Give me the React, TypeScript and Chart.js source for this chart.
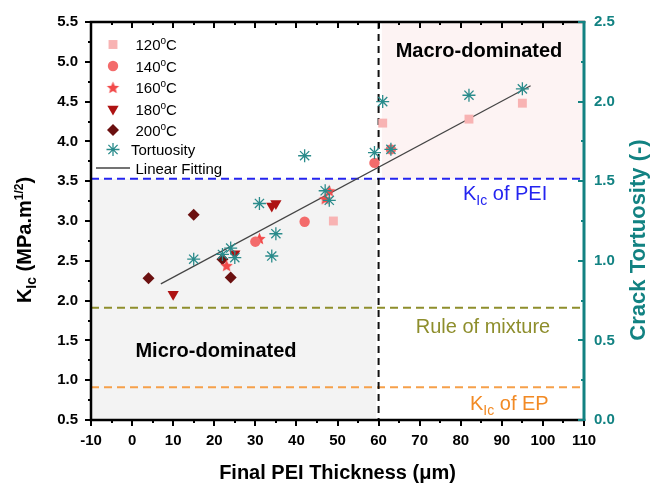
import React, { useEffect, useRef } from 'react';
import { Chart, registerables } from 'chart.js';
import { drawPoint } from 'chart.js/helpers';

Chart.register(...registerables);

// ---------- data ----------
const thickness120 = [49, 61, 82, 95];
const kic120 = [3.0, 4.23, 4.28, 4.48];
const thickness140 = [30, 42, 59, 63];
const kic140 = [2.74, 2.99, 3.73, 3.9];
const thickness160 = [23, 31, 47, 48];
const kic160 = [2.44, 2.78, 3.28, 3.38];
const thickness180 = [10, 25, 34, 35];
const kic180 = [2.08, 2.59, 3.19, 3.22];
const thickness200 = [4, 15, 22, 24];
const kic200 = [2.28, 3.08, 2.52, 2.29];
const tortThickness = [15, 22, 24, 25, 31, 34, 35, 42, 47, 48, 59, 61, 63, 82, 95];
const tortuosity = [1.01, 1.04, 1.08, 1.02, 1.36, 1.03, 1.17, 1.66, 1.44, 1.38, 1.68, 2.0, 1.7, 2.04, 2.08];
const fitThickness = [7, 97];
const fitKic = [2.21, 4.7];
const kicPEI = 3.53;
const kicRuleOfMixture = 1.91;
const kicEP = 0.91;
const regimeBoundary = 60;
const microRegionX = [-10, 59.4];
const macroRegionX = [60.8, 110];

const FAM = '"Liberation Sans", Arial, sans-serif';
const TEAL = '#128282';
const C120 = '#F8B3B3';
const C140 = '#F36B6B';
const C160 = '#F24A4A';
const C180 = '#AE1212';
const C200 = '#6B1010';
const CTORT = '#2A8B8B';

function makeStar(color: string, r: number) {
  const c = document.createElement('canvas');
  const s = Math.ceil(r * 2 + 2);
  c.width = s;
  c.height = s;
  const g = c.getContext('2d')!;
  g.fillStyle = color;
  g.beginPath();
  for (let i = 0; i < 10; i++) {
    const rad = i % 2 === 0 ? r : r * 0.45;
    const ang = -Math.PI / 2 + (i * Math.PI) / 5;
    g.lineTo(s / 2 + rad * Math.cos(ang), s / 2 + rad * Math.sin(ang) + 0.5);
  }
  g.closePath();
  g.fill();
  return c;
}

type Part = { t: string; size: number; bold?: boolean; dy?: number };

function drawRich(ctx: CanvasRenderingContext2D, parts: Part[], x: number, y: number, align: 'left' | 'center', color: string) {
  let total = 0;
  const widths = parts.map((p) => {
    ctx.font = `${p.bold ? 'bold ' : ''}${p.size}px ${FAM}`;
    const w = ctx.measureText(p.t).width;
    total += w;
    return w;
  });
  let cx = align === 'center' ? x - total / 2 : x;
  ctx.fillStyle = color;
  ctx.textAlign = 'left';
  ctx.textBaseline = 'alphabetic';
  parts.forEach((p, i) => {
    ctx.font = `${p.bold ? 'bold ' : ''}${p.size}px ${FAM}`;
    ctx.fillText(p.t, cx, y + (p.dy || 0));
    cx += widths[i];
  });
}

export default function App() {
  const ref = useRef<HTMLCanvasElement>(null);

  useEffect(() => {
    document.body.style.margin = '0';
    const canvas = ref.current!;
    const starImg = makeStar(C160, 6.5);

    const legendItems: any[] = [
      { label: '120', style: 'rect', color: C120, r: 6.3 },
      { label: '140', style: 'circle', color: C140, r: 5.2 },
      { label: '160', style: starImg, color: C160, r: 6 },
      { label: '180', style: 'triangle', color: C180, r: 6.5, rot: 180 },
      { label: '200', style: 'rectRot', color: C200, r: 6 },
    ];

    const decor = {
      id: 'decor',
      beforeDatasetsDraw(chart: any) {
        const { ctx, chartArea: a, scales } = chart;
        const x = scales.x, y = scales.y;
        ctx.save();
        // shaded regions
        ctx.fillStyle = '#F3F3F3';
        const gx1 = x.getPixelForValue(microRegionX[0]);
        const gx2 = x.getPixelForValue(microRegionX[1]);
        const gy1 = y.getPixelForValue(kicPEI);
        const gy2 = y.getPixelForValue(0.5);
        ctx.fillRect(gx1, gy1, gx2 - gx1, gy2 - gy1);
        ctx.fillStyle = '#FDF3F3';
        const px1 = x.getPixelForValue(macroRegionX[0]);
        const px2 = x.getPixelForValue(macroRegionX[1]);
        const py1 = y.getPixelForValue(5.5);
        const py2 = y.getPixelForValue(kicPEI);
        ctx.fillRect(px1, py1, px2 - px1, py2 - py1);

        const hline = (v: number, color: string) => {
          const py = y.getPixelForValue(v);
          ctx.strokeStyle = color;
          ctx.lineWidth = 2;
          ctx.setLineDash([8, 5]);
          ctx.beginPath();
          ctx.moveTo(a.left, py);
          ctx.lineTo(a.right, py);
          ctx.stroke();
        };
        hline(kicPEI, '#2424F0');
        hline(kicRuleOfMixture, '#8E8E2C');
        hline(kicEP, '#F6A04A');

        const vx = x.getPixelForValue(regimeBoundary);
        ctx.strokeStyle = '#111';
        ctx.lineWidth = 2;
        ctx.setLineDash([7, 5]);
        ctx.beginPath();
        ctx.moveTo(vx, a.top);
        ctx.lineTo(vx, a.bottom);
        ctx.stroke();
        ctx.setLineDash([]);
        ctx.restore();
      },
      afterDraw(chart: any) {
        const { ctx, chartArea: a, scales } = chart;
        const x = scales.x, y = scales.y, y2 = scales.y2;
        ctx.save();
        // annotations
        drawRich(ctx, [{ t: 'Macro-dominated', size: 20, bold: true }], 479, 57, 'center', '#000');
        drawRich(ctx, [{ t: 'Micro-dominated', size: 20, bold: true }], 216, 357, 'center', '#000');
        drawRich(ctx, [{ t: 'K', size: 20 }, { t: 'Ic', size: 14, dy: 5 }, { t: ' of PEI', size: 20 }], 463, 200, 'left', '#2424F0');
        drawRich(ctx, [{ t: 'Rule of mixture', size: 20 }], 483, 333, 'center', '#8E8E2C');
        drawRich(ctx, [{ t: 'K', size: 20 }, { t: 'Ic', size: 14, dy: 5 }, { t: ' of EP', size: 20 }], 470, 410, 'left', '#F28A24');

        // frame
        ctx.lineCap = 'square';
        ctx.strokeStyle = '#000';
        ctx.lineWidth = 2.5;
        ctx.beginPath();
        ctx.moveTo(a.left, a.top);
        ctx.lineTo(a.right, a.top);
        ctx.moveTo(a.left, a.top);
        ctx.lineTo(a.left, a.bottom);
        ctx.lineTo(a.right, a.bottom);
        ctx.stroke();
        ctx.lineCap = 'butt';
        ctx.lineWidth = 2;
        // x ticks
        for (let v = -10; v <= 110; v += 5) {
          const px = Math.round(x.getPixelForValue(v));
          const major = v % 10 === 0;
          const len = major ? 6 : 3;
          ctx.beginPath();
          ctx.moveTo(px, a.bottom);
          ctx.lineTo(px, a.bottom + len);
          ctx.moveTo(px, a.top);
          ctx.lineTo(px, a.top + len);
          ctx.stroke();
        }
        // left y ticks
        for (let v = 0.5; v <= 5.5001; v += 0.25) {
          const py = Math.round(y.getPixelForValue(v));
          const major = Math.abs(v * 2 - Math.round(v * 2)) < 1e-6;
          const len = major ? 6 : 3;
          ctx.beginPath();
          ctx.moveTo(a.left, py);
          ctx.lineTo(a.left - len, py);
          ctx.stroke();
        }
        // right axis
        ctx.strokeStyle = TEAL;
        ctx.lineWidth = 3;
        ctx.beginPath();
        ctx.moveTo(a.right, a.top - 1);
        ctx.lineTo(a.right, a.bottom + 1);
        ctx.stroke();
        ctx.lineWidth = 2;
        for (let v = 0; v <= 2.5001; v += 0.25) {
          const py = Math.round(y2.getPixelForValue(v));
          const major = Math.abs(v * 2 - Math.round(v * 2)) < 1e-6;
          const len = major ? 6 : 3;
          ctx.beginPath();
          ctx.moveTo(a.right, py);
          ctx.lineTo(a.right - len, py);
          ctx.stroke();
        }

        // axis titles
        drawRich(ctx, [{ t: 'Final PEI Thickness (\u03BCm)', size: 20, bold: true }], (a.left + a.right) / 2, 479, 'center', '#000');
        ctx.save();
        ctx.translate(24, 240);
        ctx.rotate(-Math.PI / 2);
        drawRich(ctx, [
          { t: 'K', size: 20, bold: true },
          { t: 'Ic', size: 14, bold: true, dy: 5 },
          { t: ' (MPa.m', size: 20, bold: true },
          { t: '1/2', size: 12, bold: true, dy: -8 },
          { t: ')', size: 20, bold: true },
        ], 0, 7, 'center', '#000');
        ctx.restore();
        ctx.save();
        ctx.translate(637, 240);
        ctx.rotate(-Math.PI / 2);
        drawRich(ctx, [{ t: 'Crack Tortuosity (-)', size: 22, bold: true }], 0, 8, 'center', TEAL);
        ctx.restore();

        // legend
        const rows = [44.5, 66, 87.5, 109, 130, 149.5, 168];
        legendItems.forEach((it, i) => {
          ctx.fillStyle = it.color;
          ctx.strokeStyle = it.color;
          drawPoint(ctx, { pointStyle: it.style, radius: it.r, rotation: it.rot || 0, borderWidth: 0 } as any, 113, rows[i]);
          drawRich(ctx, [
            { t: it.label, size: 15 },
            { t: 'o', size: 10, dy: -6 },
            { t: 'C', size: 15 },
          ], 135.5, rows[i] + 5.5, 'left', '#000');
        });
        ctx.strokeStyle = CTORT;
        ctx.lineWidth = 1.3;
        drawPoint(ctx, { pointStyle: 'star', radius: 6.5, rotation: 0, borderWidth: 1.3 } as any, 113, rows[5]);
        drawRich(ctx, [{ t: 'Tortuosity', size: 15 }], 131, rows[5] + 5.5, 'left', '#000');
        ctx.strokeStyle = '#444';
        ctx.lineWidth = 1.3;
        ctx.beginPath();
        ctx.moveTo(96, rows[6]);
        ctx.lineTo(130, rows[6]);
        ctx.stroke();
        drawRich(ctx, [{ t: 'Linear Fitting', size: 15 }], 135.5, rows[6] + 5.5, 'left', '#000');
        ctx.restore();
      },
    };

    const pts = (xs: number[], ys: number[]) => xs.map((v, i) => ({ x: v, y: ys[i] }));

    const chart = new Chart(canvas, {
      type: 'scatter',
      data: {
        datasets: [
          {
            label: 'Tortuosity', data: pts(tortThickness, tortuosity), yAxisID: 'y2', order: 0,
            pointStyle: 'star', pointRadius: 6.5, pointBorderColor: CTORT, pointBackgroundColor: CTORT, pointBorderWidth: 1.3,
          },
          {
            label: '120', data: pts(thickness120, kic120), yAxisID: 'y', order: 1,
            pointStyle: 'rect', pointRadius: 6.3, pointBackgroundColor: C120, pointBorderColor: C120, pointBorderWidth: 0,
          },
          {
            label: '140', data: pts(thickness140, kic140), yAxisID: 'y', order: 2,
            pointStyle: 'circle', pointRadius: 5.2, pointBackgroundColor: C140, pointBorderColor: C140, pointBorderWidth: 0,
          },
          {
            label: '160', data: pts(thickness160, kic160), yAxisID: 'y', order: 3,
            pointStyle: starImg as any, pointRadius: 6, pointBackgroundColor: C160, pointBorderColor: C160, pointBorderWidth: 0,
          },
          {
            label: '180', data: pts(thickness180, kic180), yAxisID: 'y', order: 4,
            pointStyle: 'triangle', pointRotation: 180, pointRadius: 6.5, pointBackgroundColor: C180, pointBorderColor: C180, pointBorderWidth: 0,
          },
          {
            label: '200', data: pts(thickness200, kic200), yAxisID: 'y', order: 5,
            pointStyle: 'rectRot', pointRadius: 6, pointBackgroundColor: C200, pointBorderColor: C200, pointBorderWidth: 0,
          },
          {
            label: 'Linear Fitting', data: pts(fitThickness, fitKic), yAxisID: 'y', order: 6,
            showLine: true, pointRadius: 0, borderColor: '#444', borderWidth: 1.2,
          } as any,
        ],
      },
      options: {
        animation: false,
        responsive: false,
        devicePixelRatio: 1,
        layout: { padding: { top: 20, left: 0, right: 0, bottom: 0 } },
        plugins: { legend: { display: false }, tooltip: { enabled: false } },
        scales: {
          x: {
            type: 'linear', min: -10, max: 110,
            afterFit: (s: any) => { s.height = 68; },
            ticks: { stepSize: 10, padding: 12, color: '#000', font: { family: FAM, size: 15, weight: 'bold' } },
            grid: { display: false, drawTicks: false, tickLength: 0 },
            border: { display: false },
          },
          y: {
            type: 'linear', position: 'left', min: 0.5, max: 5.5,
            afterFit: (s: any) => { s.width = 91; },
            ticks: { stepSize: 0.5, padding: 13, color: '#000', font: { family: FAM, size: 15, weight: 'bold' }, callback: (v: any) => Number(v).toFixed(1) },
            grid: { display: false, drawTicks: false, tickLength: 0 },
            border: { display: false },
          },
          y2: {
            type: 'linear', position: 'right', min: 0, max: 2.5,
            afterFit: (s: any) => { s.width = 67; },
            ticks: { stepSize: 0.5, padding: 10, color: TEAL, font: { family: FAM, size: 15, weight: 'bold' }, callback: (v: any) => Number(v).toFixed(1) },
            grid: { display: false, drawTicks: false, tickLength: 0 },
            border: { display: false },
          },
        },
      } as any,
      plugins: [decor],
    });
    return () => chart.destroy();
  }, []);

  return <canvas ref={ref} width={651} height={488} style={{ display: 'block', width: 651, height: 488 }} />;
}
